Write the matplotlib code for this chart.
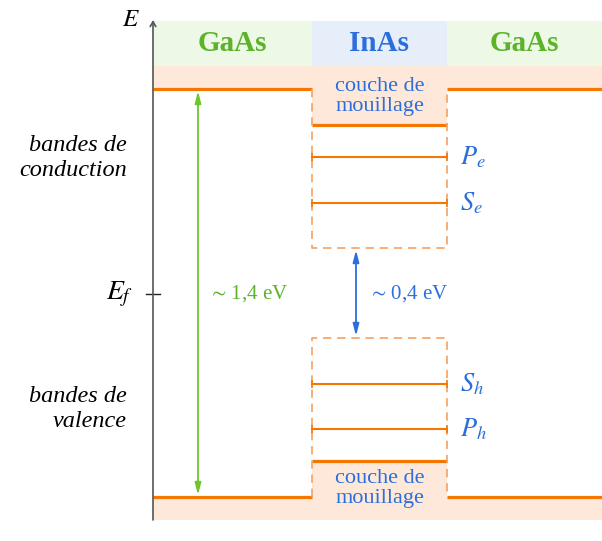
import matplotlib
matplotlib.use('Agg')
import matplotlib.pyplot as plt
from matplotlib.patches import Rectangle

plt.rcParams['font.family'] = ['Liberation Serif', 'DejaVu Serif']
plt.rcParams['mathtext.fontset'] = 'stix'

# energies in arbitrary units, E_f = 0 ; x positions of the layers
regions = ['GaAs', 'InAs', 'GaAs']
region_edges = [0, 1.59, 2.94, 4.49]
header_bot, header_top = 2.28, 2.73
axis_top, axis_bot = 2.74, -2.26

gaas_cb, gaas_vb = 2.05, -2.03
wl_cb, wl_vb = 1.69, -1.67          # couche de mouillage
inas_cb, inas_vb = 0.46, -0.44      # bas/haut des boites
levels = ['$P_e$', '$S_e$', '$S_h$', '$P_h$']
level_E = [1.37, 0.91, -0.90, -1.35]
gap_gaas = r'$\sim\,$1,4 eV'
gap_inas = r'$\sim\,$0,4 eV'

orange = '#f57600'
orange_l = '#f7a060'
peach = '#fde8d9'
green = '#5bb32a'
green_a = '#6cc62c'
blue = '#2c6fdc'
header_cols = ['#eef8e6', '#e6eefa', '#eef8e6']

fig = plt.figure(figsize=(6.02, 5.41), dpi=100)
ax = fig.add_axes([0, 0, 1, 1])
ax.set_xlim(-1.53, 4.49)
ax.set_ylim(-2.47, 2.94)
ax.axis('off')

x0, x1, x2, x3 = region_edges

# header
for i, name in enumerate(regions):
    a, b = region_edges[i], region_edges[i + 1]
    ax.add_patch(Rectangle((a, header_bot), b - a, header_top - header_bot,
                           color=header_cols[i], lw=0, zorder=0))
    ax.text((a + b) / 2, (header_bot + header_top) / 2, name, ha='center', va='center',
            fontsize=21, fontweight='bold', color=green if name == 'GaAs' else blue)

# peach bands
ax.add_patch(Rectangle((x0, gaas_cb), x3 - x0, header_bot - gaas_cb, color=peach, lw=0, zorder=0))
ax.add_patch(Rectangle((x1, wl_cb), x2 - x1, header_bot - wl_cb, color=peach, lw=0, zorder=0))
ax.add_patch(Rectangle((x0, axis_bot), x3 - x0, gaas_vb - axis_bot, color=peach, lw=0, zorder=0))
ax.add_patch(Rectangle((x1, axis_bot), x2 - x1, wl_vb - axis_bot, color=peach, lw=0, zorder=0))

# GaAs band edges
for e in (gaas_cb, gaas_vb):
    ax.plot([x0, x1], [e, e], color=orange, lw=2.3, solid_capstyle='butt')
    ax.plot([x2, x3], [e, e], color=orange, lw=2.3, solid_capstyle='butt')
# wetting layer
for e in (wl_cb, wl_vb):
    ax.plot([x1, x2], [e, e], color=orange, lw=2.3, solid_capstyle='butt')

# dashed boxes
dash = dict(color=orange_l, lw=1.2, ls=(0, (5, 3.5)))
ax.plot([x1, x1, x2, x2], [gaas_cb, inas_cb, inas_cb, gaas_cb], **dash)
ax.plot([x1, x1, x2, x2], [gaas_vb, inas_vb, inas_vb, gaas_vb], **dash)

# confined levels
for lab, e in zip(levels, level_E):
    ax.plot([x1, x2], [e, e], color=orange, lw=1.5, marker='|', markersize=6,
            markeredgewidth=1.2)
    ax.text(x2 + 0.13, e, lab, ha='left', va='center', fontsize=19, color=blue)

ax.text((x1 + x2) / 2, (header_bot + wl_cb) / 2 - 0.01, 'couche de\nmouillage', ha='center',
        va='center', fontsize=16, color=blue, linespacing=1.05)
ax.text((x1 + x2) / 2, (axis_bot + wl_vb) / 2 + 0.02, 'couche de\nmouillage', ha='center',
        va='center', fontsize=16, color=blue, linespacing=1.05)

# gaps
ax.annotate('', xy=(0.45, gaas_cb - 0.02), xytext=(0.45, gaas_vb + 0.02),
            arrowprops=dict(arrowstyle='<|-|>,head_length=0.7,head_width=0.18',
                            color=green_a, lw=1.3, shrinkA=0, shrinkB=0))
ax.text(0.55, 0, gap_gaas, ha='left', va='center', fontsize=15, color=green)
ax.annotate('', xy=(2.03, inas_cb - 0.02), xytext=(2.03, inas_vb + 0.02),
            arrowprops=dict(arrowstyle='<|-|>,head_length=0.7,head_width=0.18',
                            color=blue, lw=1.3, shrinkA=0, shrinkB=0))
ax.text(2.15, 0, gap_inas, ha='left', va='center', fontsize=15, color=blue)

# axes
ax.annotate('', xy=(0, axis_top), xytext=(0, axis_bot),
            arrowprops=dict(arrowstyle='->,head_length=0.35,head_width=0.2', color='#555555',
                            lw=1.2, shrinkA=0, shrinkB=0))
ax.annotate('', xy=(4.55, axis_bot), xytext=(0, axis_bot),
            arrowprops=dict(arrowstyle='->,head_length=0.35,head_width=0.2', color='#222222',
                            lw=1.0, shrinkA=0, shrinkB=0))
ax.plot([-0.07, 0.07], [0, 0], color='#222222', lw=1.0)
ax.text(-0.13, axis_top, '$E$', ha='right', va='center', fontsize=18)
ax.text(-0.20, 0, '$E_f$', ha='right', va='center', fontsize=20)
ax.text(-0.26, 1.36, 'bandes de\nconduction', ha='right', va='center', fontsize=17.5,
        style='italic', linespacing=1.2)
ax.text(-0.26, -1.15, 'bandes de\nvalence', ha='right', va='center', fontsize=17.5,
        style='italic', linespacing=1.2)

fig.savefig('out.png', dpi=100)
